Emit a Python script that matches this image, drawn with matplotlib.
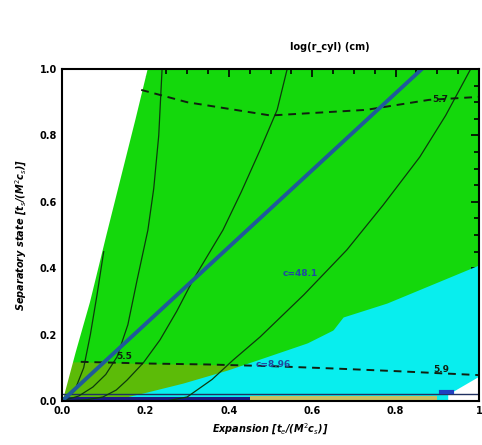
import numpy as np
import matplotlib
matplotlib.use("Agg")
import matplotlib.pyplot as plt
from matplotlib.ticker import MultipleLocator

# ---- data ----
wedge_y = [0.0, 0.15, 0.3, 0.5, 0.7, 0.85, 1.0]
wedge_x = [0.0, 0.032, 0.066, 0.105, 0.145, 0.175, 0.204]

cyan_x = [0.0, 0.122, 0.194, 0.29, 0.396, 0.49, 0.588, 0.65, 0.674, 0.779, 1.0]
cyan_y = [0.0, 0.003, 0.024, 0.054, 0.093, 0.133, 0.175, 0.214, 0.253, 0.295, 0.41]

c55_x = [0.045, 0.2, 0.35, 0.5, 0.65, 0.8, 1.0]
c55_y = [0.118, 0.113, 0.11, 0.105, 0.098, 0.09, 0.078]

c57_x = [0.19, 0.3, 0.5, 0.73, 0.88, 1.0]
c57_y = [0.937, 0.9, 0.86, 0.877, 0.907, 0.916]

lineA_x = [0.0, 0.03, 0.052, 0.068, 0.084, 0.1]
lineA_y = [0.0, 0.03, 0.1, 0.2, 0.32, 0.45]
lineB_x = [0.0, 0.04, 0.074, 0.105, 0.132, 0.158, 0.18, 0.206, 0.22, 0.232, 0.24]
lineB_y = [0.0, 0.015, 0.042, 0.08, 0.133, 0.23, 0.364, 0.515, 0.64, 0.8, 1.0]
lineC_x = [0.0, 0.06, 0.098, 0.13, 0.156, 0.195, 0.235, 0.275, 0.314, 0.386, 0.43, 0.475, 0.516, 0.54]
lineC_y = [0.0, 0.004, 0.012, 0.033, 0.063, 0.115, 0.184, 0.27, 0.364, 0.515, 0.63, 0.756, 0.877, 1.0]
lineD_x = [0.25, 0.3, 0.36, 0.41, 0.475, 0.58, 0.683, 0.77, 0.858, 0.92, 0.98]
lineD_y = [0.0, 0.012, 0.065, 0.123, 0.193, 0.32, 0.455, 0.59, 0.735, 0.86, 1.0]

blue_x = [0.0, 0.863]
blue_y = [0.0, 1.0]

corner_x = [0.925, 1.0]
corner_y = [0.02, 0.075]

xticks = [0.0, 0.2, 0.4, 0.6, 0.8, 1.0]
xticklabels = ["0.0", "0.2", "0.4", "0.6", "0.8", "1"]
yticks = [0.0, 0.2, 0.4, 0.6, 0.8, 1.0]
yticklabels = ["0.0", "0.2", "0.4", "0.6", "0.8", "1.0"]

title = "log(r_cyl) (cm)"
xlabel = "Expansion [t$_e$/(M$^2$c$_s$)]"
ylabel = "Separatory state [t$_s$/(M$^2$c$_s$)]"

# ---- figure ----
fig = plt.figure(figsize=(4.82, 4.45), dpi=100)
ax = fig.add_axes([62/482, 44/445, 417/482, 332/445])
ax.set_xlim(0, 1)
ax.set_ylim(0, 1)

GREEN = "#14d80c"
OLIVE = "#5cbb08"
CYAN = "#08eeee"

xx = np.linspace(0, 1, 400)
yy = np.linspace(0, 1, 400)

ax.fill_between([0, 1], 0, 1, color=GREEN, lw=0, zorder=1)
ax.fill_between(xx, 0, np.interp(xx, c55_x, c55_y), color=OLIVE, lw=0, zorder=2)
ax.fill_between(xx, 0, np.interp(xx, cyan_x, cyan_y), color=CYAN, lw=0, zorder=3)
ax.fill_betweenx(yy, 0, np.interp(yy, wedge_y, wedge_x), color="white", lw=0, zorder=4)
ax.fill_between(corner_x, 0, corner_y, color="white", lw=0, zorder=4)
ax.fill_between([0.0, 0.45], 0, 0.013, color="#1a1a80", lw=0, zorder=5)
ax.fill_between([0.45, 0.9], 0, 0.015, color="#c8c060", lw=0, zorder=5)
ax.plot([0.0, 1.0], [0.021, 0.021], color="#203060", lw=1.0, zorder=6)
ax.plot([0.91, 0.935], [0.027, 0.027], color="#2040c0", lw=3, zorder=6)

for lx, ly in [(lineA_x, lineA_y), (lineB_x, lineB_y), (lineC_x, lineC_y), (lineD_x, lineD_y)]:
    ax.plot(lx, ly, color="#0c3a0c", lw=0.9, zorder=7)

ax.plot(c57_x, c57_y, color="#102010", lw=1.4, ls=(0, (4, 3)), zorder=8)
ax.plot(c55_x, c55_y, color="#102010", lw=1.4, ls=(0, (4, 3)), zorder=8)

ax.plot(blue_x, blue_y, color="#1f5a9a", lw=2.8, zorder=9)

kw = dict(fontsize=6.5, fontweight="bold", zorder=10, ha="center", va="center")
ax.text(0.906, 0.907, "5.7", color="#102010", **kw)
ax.text(0.15, 0.135, "5.5", color="#102010", **kw)
ax.text(0.91, 0.095, "5.9", color="#102010", **kw)
ax.text(0.571, 0.385, "c=48.1", color="#1f4aa0", **kw)
ax.text(0.506, 0.11, "c=8.96", color="#1f4aa0", **kw)

ax.set_xticks(xticks)
ax.set_xticklabels(xticklabels)
ax.set_yticks(yticks)
ax.set_yticklabels(yticklabels)
ax.xaxis.set_minor_locator(MultipleLocator(0.05))
ax.yaxis.set_minor_locator(MultipleLocator(0.05))
ax.tick_params(which="both", direction="in", top=True, right=True, width=1.2, color="black")
ax.tick_params(which="major", length=6)
ax.tick_params(which="minor", length=3.5)
for lab in ax.get_xticklabels() + ax.get_yticklabels():
    lab.set_fontsize(7)
    lab.set_fontweight("bold")
for s in ax.spines.values():
    s.set_linewidth(1.5)
    s.set_zorder(11)

ax.set_xlabel(xlabel, fontsize=7, fontweight="bold", fontstyle="italic", labelpad=4)
ax.set_ylabel(ylabel, fontsize=7, fontweight="bold", fontstyle="italic", labelpad=8)
fig.text(330/482, 1 - 47/445, title, fontsize=7, fontweight="bold", ha="center", va="center")

fig.savefig("out.png", dpi=100)
